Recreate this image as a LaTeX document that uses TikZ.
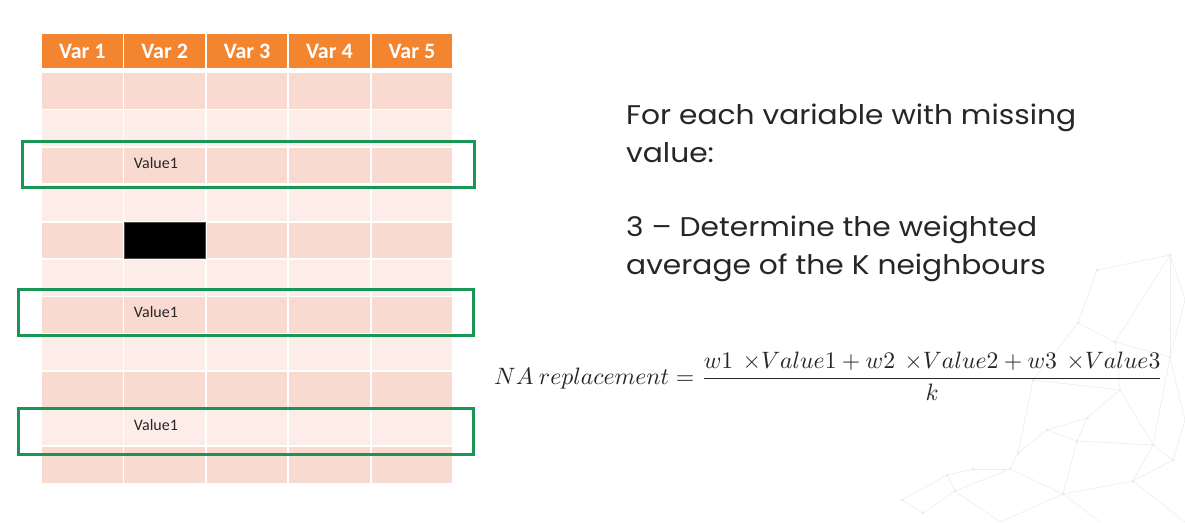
\documentclass[tikz,border=0pt]{standalone}
\usepackage{amsmath}
\usepackage{fontspec}
\setmainfont{Carlito}
\newfontfamily\slidefont[FakeStretch=1.1]{Poppins}
\usepackage{graphicx}
\definecolor{hdr}{RGB}{243,132,48}
\definecolor{rowdark}{RGB}{249,218,208}
\definecolor{rowlight}{RGB}{252,237,232}
\definecolor{nbr}{RGB}{24,150,86}
\definecolor{txt}{RGB}{38,38,38}
\definecolor{mesh}{RGB}{236,234,236}
\tikzset{
  hdrcell/.style={fill=hdr, minimum width=80.6pt, minimum height=34pt, inner sep=0pt,
    text=white, font=\fontsize{22}{24}\selectfont\bfseries},
  bodycell/.style={minimum width=80.6pt, minimum height=35.6pt, inner sep=0pt},
  nbrbox/.style={draw=nbr, line width=3pt},
  celltext/.style={anchor=west, inner sep=0pt, text=txt, font=\fontsize{16}{18}\selectfont},
  slidetext/.style={anchor=base west, inner sep=0pt, text=txt, font=\slidefont\fontsize{27}{30}\selectfont},
  meshline/.style={draw=mesh, line width=0.5pt},
  meshdot/.style={fill=mesh, circle, inner sep=0pt, minimum size=3pt}
}
\begin{document}
\begin{tikzpicture}[x=1pt,y=-1pt]
\useasboundingbox[fill=white] (0,0) rectangle (1185,522);

% faint mesh in the lower right corner
\foreach \n/\px/\py in {a/1170/255,b/1097/270,c/1078/323,d/1115/342,e/1170/357,f/1120/390,
  g/1087/418,h/1047/430,i/1077/441,j/1153/445,k/1173/460,l/1018/453,m/1010/469,n/973/469,
  o/947/475,p/955/491,q/1063/494,r/1133/481,s/902/500,t/923/513,u/1033/380,v/1185/300,w/1185/420,x/1185/522,y/1100/522,z/1000/522}
  \coordinate (m\n) at (\px,\py);
\foreach \u/\v in {a/b,b/c,a/d,c/d,d/e,a/e,d/f,c/u,u/f,f/g,g/h,h/i,g/i,f/j,e/j,j/k,e/w,
  h/l,l/m,m/n,n/o,o/p,m/p,i/q,q/r,r/j,j/i,m/q,s/t,o/s,p/t,q/y,r/x,k/w,a/v,v/e,l/u,p/z,z/q,k/r}
  \path[meshline] (m\u) -- (m\v);
\foreach \n in {a,b,c,d,e,f,g,h,i,j,k,l,m,n,o,p,q,r,s,t,u}
  \node[meshdot] (dot\n) at (m\n) {};

% header row
\foreach \c in {1,...,5}
  \node[hdrcell] (h\c) at ({42+40.3+(\c-1)*82.4},51) {Var \c};

% body rows, alternating tints
\foreach \r in {1,...,11}{
  \pgfmathtruncatemacro{\odd}{mod(\r,2)}
  \ifnum\odd=1 \def\rc{rowdark}\else\def\rc{rowlight}\fi
  \foreach \c in {1,...,5}
    \node[bodycell, fill=\rc] (c\r-\c) at ({42+40.3+(\c-1)*82.4},{73+17.8+(\r-1)*37.4}) {};
}

% the missing value
\node[bodycell, fill=black, draw=black!70, line width=0.6pt] (missing) at (c5-2.center) {};

% neighbour values
\node[celltext] (v1) at ([xshift=-31pt,yshift=3pt]c3-2.center) {Value1};
\node[celltext] (v2) at ([xshift=-31pt,yshift=3pt]c7-2.center) {Value1};
\node[celltext] (v3) at ([xshift=-31pt,yshift=2pt]c10-2.center) {Value1};

% the K nearest rows
\draw[nbrbox] (22,141) rectangle (474,187);
\draw[nbrbox] (18,289) rectangle (473,335);
\draw[nbrbox] (18,408) rectangle (473,454);

% explanation
\node[slidetext] (t1) at (626,124) {For each variable with missing};
\node[slidetext] (t2) at (626,162) {value:};
\node[slidetext] (t3) at (626,236) {3 – Determine the weighted};
\node[slidetext] (t4) at (626,274) {average of the K neighbours};

% weighted average formula
\node[anchor=west, inner sep=0pt, text=txt] (formula) at (494,376)
  {\resizebox{669pt}{!}{$NA\ replacement=\dfrac{w1\ \,{\times}Value1+w2\ \,{\times}Value2+w3\ \,{\times}Value3}{k}$}};
\end{tikzpicture}
\end{document}
